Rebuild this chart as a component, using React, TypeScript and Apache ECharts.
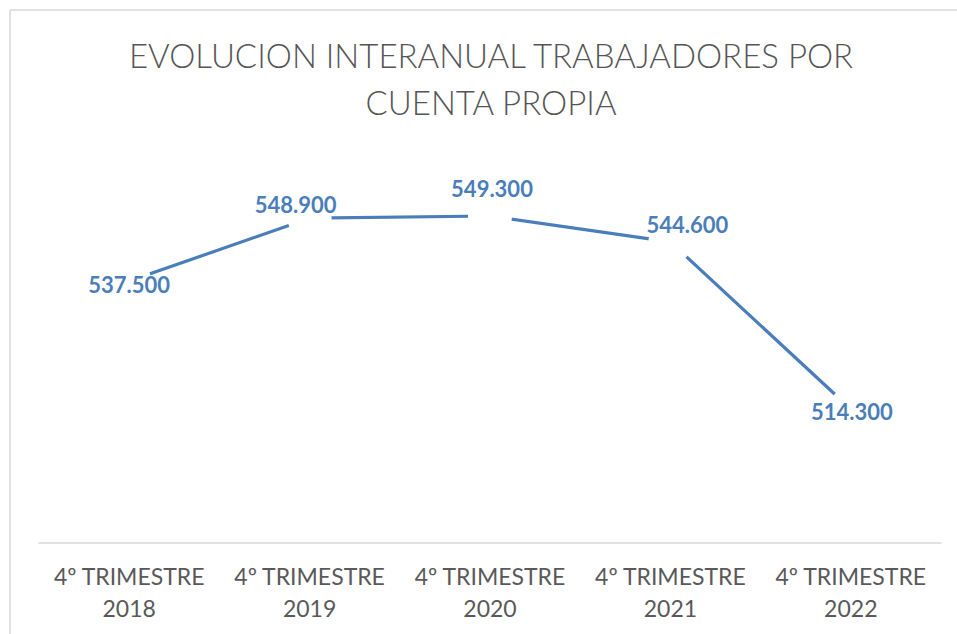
import React, { useEffect, useRef } from "react";
import * as echarts from "echarts";

const TITLE_LINES = ["EVOLUCION INTERANUAL TRABAJADORES POR", "CUENTA PROPIA"];
const CATEGORIES = [
  "4º TRIMESTRE 2018",
  "4º TRIMESTRE 2019",
  "4º TRIMESTRE 2020",
  "4º TRIMESTRE 2021",
  "4º TRIMESTRE 2022",
];
const VALUES = [537.5, 548.9, 549.3, 544.6, 514.3];
const Y_MIN = 490;
const Y_MAX = 560;

// label offsets (styling only)
const LABEL_OFFSETS: [number, number][] = [
  [0, 3],
  [-14, -14],
  [2, -28],
  [17, -17],
  [1, 2],
];

const fmt = (v: number) => v.toFixed(3);

export default function App() {
  const ref = useRef<HTMLDivElement>(null);
  useEffect(() => {
    document.body.style.margin = "0";
    const chart = echarts.init(ref.current!, null, { renderer: "svg" });
    const font = "Lato, 'Open Sans', sans-serif";
    chart.setOption({
      animation: false,
      backgroundColor: "#ffffff",
      graphic: [
        {
          type: "line",
          shape: { x1: 10, y1: 10, x2: 957, y2: 10 },
          style: { stroke: "#d9d9d9", lineWidth: 1.5 },
          silent: true,
        },
        {
          type: "line",
          shape: { x1: 10, y1: 10, x2: 10, y2: 634 },
          style: { stroke: "#d9d9d9", lineWidth: 1.5 },
          silent: true,
        },
        ...TITLE_LINES.map((t, i) => ({
          type: "text",
          x: 491,
          y: 55 + i * 47,
          silent: true,
          style: {
            text: t,
            fill: "#555555",
            font: `300 33px ${font}`,
            textAlign: "center",
            textVerticalAlign: "middle",
          },
        })),
      ],
      grid: { left: 39, right: 16, top: 157, bottom: 91 },
      xAxis: {
        type: "category",
        data: CATEGORIES,
        boundaryGap: true,
        axisLine: { show: true, lineStyle: { color: "#d9d9d9", width: 1.5 } },
        axisTick: { show: false },
        axisLabel: {
          interval: 0,
          margin: 17,
          color: "#595959",
          fontFamily: font,
          fontSize: 23,
          lineHeight: 32,
          formatter: (v: string) => {
            const i = v.lastIndexOf(" ");
            return v.slice(0, i) + "\n" + v.slice(i + 1);
          },
        },
        splitLine: { show: false },
      },
      yAxis: {
        type: "value",
        min: Y_MIN,
        max: Y_MAX,
        show: false,
        splitLine: { show: false },
      },
      series: [
        {
          type: "line",
          silent: true,
          data: VALUES.map((v, i) => ({
            value: v,
            label: { offset: LABEL_OFFSETS[i] },
          })),
          lineStyle: { color: "#4A7EBB", width: 3.2 },
          symbol: "circle",
          symbolSize: 44,
          itemStyle: { color: "#ffffff", borderWidth: 0 },
          label: {
            show: true,
            position: "inside",
            color: "#4A7EBB",
            fontFamily: font,
            fontWeight: "bold",
            fontSize: 22,
            formatter: (p: any) => fmt(p.value),
          },
        },
      ],
    });
    return () => chart.dispose();
  }, []);
  return <div ref={ref} style={{ width: 957, height: 634 }} />;
}
